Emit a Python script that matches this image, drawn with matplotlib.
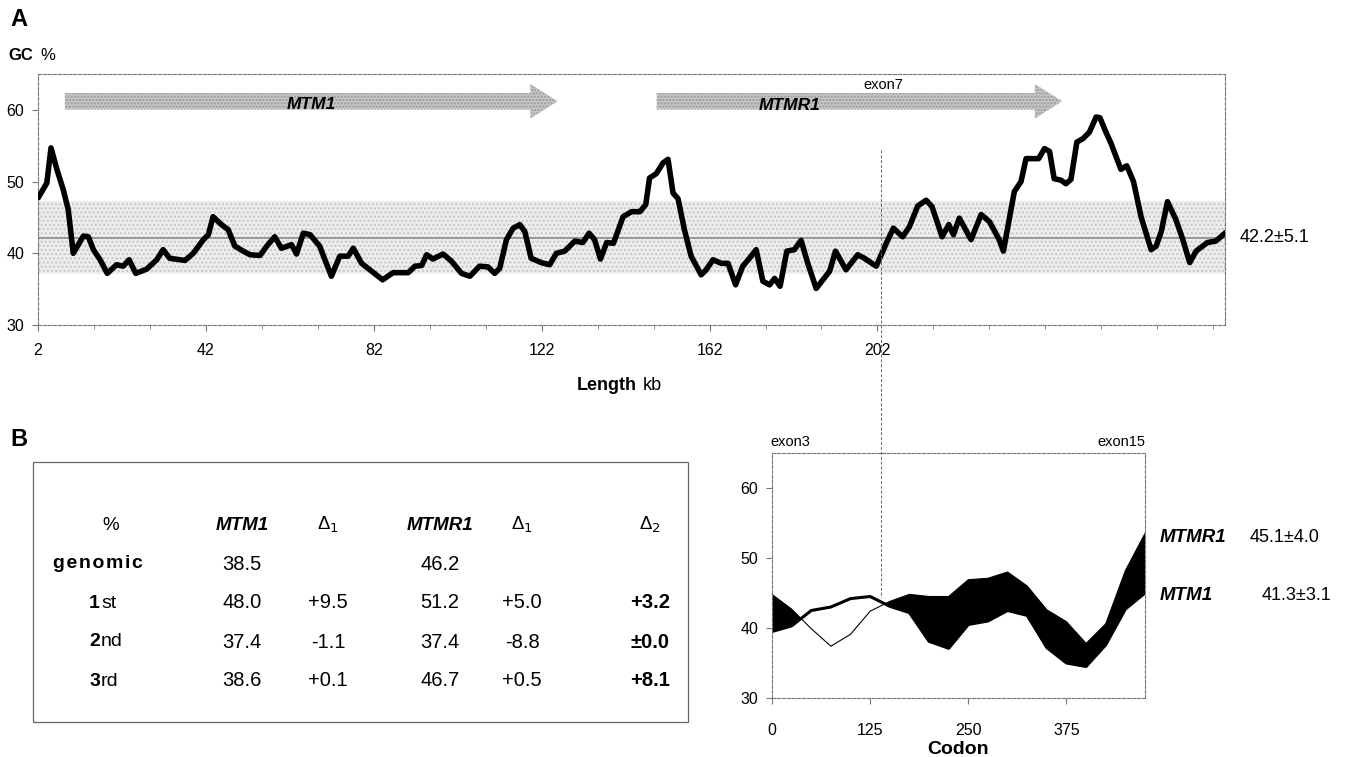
import numpy as np
import matplotlib.pyplot as plt
from matplotlib.patches import FancyArrow, Rectangle
from matplotlib.lines import Line2D

W, H = 1347, 757

plt.rcParams['font.family'] = ['Liberation Sans', 'DejaVu Sans']
NARROW = ['Liberation Sans Narrow', 'Liberation Sans', 'DejaVu Sans']

### Panel A data: GC % along the genomic region (kb)
kb = [2.2, 4.1, 5.1, 6.5, 8.0, 9.2, 10.4, 12.8, 14.0, 15.2, 16.8, 18.5, 20.7, 22.3,
      23.7, 25.3, 27.9, 30.3, 31.8, 33.4, 37.0, 39.0, 41.4, 42.6, 43.7, 45.7, 47.3,
      48.9, 50.9, 52.5, 54.9, 56.5, 58.4, 60.0, 62.4, 63.6, 65.2, 66.8, 69.1, 71.9,
      73.9, 75.9, 77.1, 79.1, 81.5, 84.1, 86.6, 90.2, 91.8, 93.4, 94.6, 96.1, 98.5,
      100.5, 102.9, 104.9, 107.2, 109.2, 110.8, 112.0, 113.6, 115.2, 116.8, 118.0,
      119.5, 121.9, 123.9, 125.5, 127.5, 129.9, 131.8, 133.3, 134.6, 136.0, 137.5,
      139.1, 141.4, 143.4, 145.4, 146.8, 147.7, 149.3, 150.9, 152.1, 153.3, 154.5,
      156.0, 157.6, 160.0, 161.2, 162.8, 164.8, 166.4, 168.2, 169.9, 171.5, 173.1,
      174.7, 176.3, 177.5, 178.8, 180.4, 182.2, 183.8, 185.4, 187.4, 190.6, 192.0,
      194.5, 197.3, 198.9, 201.7, 204.1, 205.8, 208.0, 209.6, 211.6, 213.6, 215.0,
      217.4, 219.0, 220.1, 221.5, 224.3, 226.7, 228.7, 231.0, 232.0, 234.6, 236.2,
      237.4, 240.4, 241.8, 243.0, 244.1, 245.7, 246.9, 248.1, 249.5, 251.0, 252.5,
      254.1, 255.0, 256.5, 257.6, 260.0, 261.4, 263.0, 264.8, 267.2, 268.4, 269.6,
      271.1, 273.1, 274.7, 276.4, 277.9, 280.6, 282.6, 284.6]
gc = [47.9, 49.8, 54.7, 51.7, 48.9, 46.1, 40.0, 42.4, 42.3, 40.5, 39.1, 37.2, 38.4, 38.2,
      39.1, 37.2, 37.8, 39.1, 40.5, 39.3, 39.0, 40.0, 41.9, 42.6, 45.1, 44.0, 43.3,
      41.0, 40.3, 39.8, 39.7, 41.0, 42.3, 40.7, 41.2, 39.9, 42.8, 42.6, 41.0, 36.8,
      39.6, 39.6, 40.7, 38.6, 37.5, 36.3, 37.3, 37.3, 38.2, 38.3, 39.8, 39.2, 39.9,
      38.9, 37.2, 36.8, 38.2, 38.1, 37.2, 37.9, 41.9, 43.5, 44.0, 43.0,
      39.3, 38.7, 38.4, 40.0, 40.3, 41.7, 41.5, 42.8, 41.9, 39.2, 41.5,
      41.4, 45.1, 45.8, 45.8, 46.8, 50.5, 51.1, 52.6, 53.1, 48.4, 47.6,
      43.3, 39.6, 37.0, 37.7, 39.1, 38.6, 38.6, 35.6, 38.2, 39.3, 40.5,
      36.1, 35.6, 36.5, 35.4, 40.3, 40.5, 41.8, 38.6, 35.1, 37.5, 40.3,
      37.7, 39.8, 39.3, 38.2, 41.4, 43.5, 42.3, 43.7, 46.6, 47.4, 46.5,
      42.3, 44.0, 42.6, 44.9, 41.9, 45.4, 44.4, 41.9, 40.3, 48.6, 50.0,
      53.2, 53.2, 54.6, 54.2, 50.4, 50.2, 49.7, 50.3, 55.5, 56.0, 56.9,
      59.0, 58.9, 56.8, 55.4, 51.7, 52.2, 50.0, 45.1, 40.5, 41.0, 43.0,
      47.2, 44.7, 42.0, 38.7, 40.3, 41.5, 41.7, 42.7]
gc_mean, gc_sd = 42.2, 5.1
kb_labels = [2, 42, 82, 122, 162, 202]

# genes drawn as arrows: start, end (kb)
genes = ['MTM1', 'MTMR1']
gene_start = [8.4, 149.4]
gene_end = [125.8, 246.0]

### Panel B data: GC % along the coding sequence
codon = np.arange(0, 476, 25)
mtm1_cds = np.array([39.5, 40.3, 42.5, 43.0, 44.2, 44.5, 43.1, 42.2, 38.1, 37.1, 40.5,
                     41.0, 42.5, 41.8, 37.2, 35.0, 34.5, 37.6, 42.7, 45.0])
mtmr1_cds = np.array([44.8, 42.7, 39.9, 37.4, 39.1, 42.4, 43.8, 44.8, 44.5, 44.5, 46.9,
                      47.1, 48.0, 46.0, 42.6, 40.9, 37.8, 40.6, 48.2, 53.5])
cds_stats = {'MTMR1': '45.1±4.0', 'MTM1': '41.3±3.1'}

# table
tab_cols = ['%', 'MTM1', 'Δ$_1$', 'MTMR1', 'Δ$_1$', 'Δ$_2$']
tab_rows = [('genomic', ''), ('1', 'st'), ('2', 'nd'), ('3', 'rd')]
tab_vals = [['38.5', '', '46.2', '', ''],
            ['48.0', '+9.5', '51.2', '+5.0', '+3.2'],
            ['37.4', '-1.1', '37.4', '-8.8', '±0.0'],
            ['38.6', '+0.1', '46.7', '+0.5', '+8.1']]


def fx(x):
    return x / W


def fy(y):
    return 1 - y / H


def style_frame(ax):
    for s in ax.spines.values():
        s.set_linestyle((0, (3, 1.5)))
        s.set_color('#777777')
        s.set_linewidth(0.8)
    ax.tick_params(direction='out', length=4, width=0.8, color='#777777',
                   labelsize=11.5, pad=6)


fig = plt.figure(figsize=(W / 100, H / 100), dpi=100)

### ---- panel A ----
ax = fig.add_axes([fx(38), fy(325), (1225 - 38) / W, (325 - 74) / H])
ax.set_xlim(2, 284.8)
ax.set_ylim(30, 65)
ax.axhspan(gc_mean - gc_sd, gc_mean + gc_sd, facecolor='#ededed', edgecolor='#c6c6c6',
           hatch='....', lw=0, zorder=0)
ax.axhline(gc_mean, color='#8c8c8c', lw=1.2, zorder=1)
ax.plot(kb, gc, color='black', lw=4.0, solid_joinstyle='round', zorder=3)

for name, s, e in zip(genes, gene_start, gene_end):
    arr = FancyArrow(s, 61.2, e - s, 0, width=2.3, head_width=4.8, head_length=6.5,
                     length_includes_head=True, facecolor='#c4c4c4', edgecolor='#9a9a9a',
                     hatch='.....', lw=0, zorder=2)
    ax.add_patch(arr)
ax.text(67, 60.7, 'MTM1', fontsize=12.5, fontweight='bold', style='italic',
        ha='center', va='center', zorder=4)
ax.text(181, 60.6, 'MTMR1', fontsize=12.5, fontweight='bold', style='italic',
        ha='center', va='center', zorder=4)
ax.text(203.5, 63.5, 'exon7', fontsize=10.5, ha='center', va='center')

ax.set_yticks([30, 40, 50, 60])
ax.set_xticks(kb_labels)
ax.set_xticks(2 + 40 / 3 * np.arange(22), minor=True)
ax.tick_params(axis='x', which='minor', direction='out', length=3, color='#777777')
style_frame(ax)
ax.tick_params(axis='x', pad=9)

fig.text(fx(8), fy(55), 'GC', fontsize=12, fontweight='bold', va='center')
fig.text(fx(40), fy(55), '%', fontsize=12, va='center')
fig.text(fx(10), fy(20), 'A', fontsize=17, fontweight='bold', va='center')
fig.text(fx(1240), fy(238), f'{gc_mean}±{gc_sd}', fontsize=13, va='center')
fig.text(fx(637), fy(385), 'Length', fontsize=13, fontweight='bold', ha='right', va='center')
fig.text(fx(643), fy(385), 'kb', fontsize=13, ha='left', va='center')

### ---- panel B, table ----
fig.text(fx(10), fy(440), 'B', fontsize=17, fontweight='bold', va='center')
fig.patches.append(Rectangle((fx(33), fy(722)), (688 - 33) / W, (722 - 462) / H,
                             transform=fig.transFigure, fill=False,
                             edgecolor='#666666', lw=0.9))
col_x = [111, 242, 328, 440, 522, 650]
row_y = [525, 564, 603, 642, 681]
for i, c in enumerate(tab_cols):
    bold_it = c in ('MTM1', 'MTMR1')
    fig.text(fx(col_x[i]), fy(row_y[0]), c, fontsize=13.5, ha='center', va='center',
             family=NARROW if not bold_it else None,
             fontweight='bold' if bold_it else 'normal',
             style='italic' if bold_it else 'normal')
for r, (lab, suf) in enumerate(tab_rows):
    y = fy(row_y[r + 1])
    if suf:
        fig.text(fx(100), y, lab, fontsize=14, fontweight='bold', ha='right', va='center')
        fig.text(fx(101), y, suf, fontsize=14, ha='left', va='center')
    else:
        fig.text(fx(98), y, 'g e n o m i c'.replace(' ', '\u200a'), fontsize=14,
                 fontweight='bold', ha='center', va='center')
    for j, v in enumerate(tab_vals[r]):
        fig.text(fx(col_x[j + 1]), y, v, fontsize=14.5, family=NARROW, ha='center',
                 va='center', fontweight='bold' if j == 4 else 'normal')

### ---- panel B, coding sequence plot ----
bx = fig.add_axes([fx(772), fy(698), (1145 - 772) / W, (698 - 453) / H])
bx.set_xlim(0, 475)
bx.set_ylim(30, 65)
bx.fill_between(codon, mtm1_cds, mtmr1_cds, where=mtmr1_cds >= mtm1_cds,
                interpolate=True, color='black', lw=0)
bx.plot(codon, mtmr1_cds, color='black', lw=0.8)
bx.plot(codon, mtm1_cds, color='black', lw=2.2)
bx.set_xticks([0, 125, 250, 375])
bx.set_yticks([30, 40, 50, 60])
style_frame(bx)
bx.tick_params(axis='x', pad=14)
bx.set_xlabel('Codon', fontsize=14, fontweight='bold', labelpad=2)

fig.text(fx(770), fy(442), 'exon3', fontsize=10.5, va='center')
fig.text(fx(1145), fy(442), 'exon15', fontsize=10.5, ha='right', va='center')
fig.text(fx(1160), fy(537), 'MTMR1', fontsize=13.5, fontweight='bold', style='italic',
         va='center')
fig.text(fx(1250), fy(537), cds_stats['MTMR1'], fontsize=13, va='center')
fig.text(fx(1160), fy(596), 'MTM1', fontsize=13.5, fontweight='bold', style='italic',
         va='center')
fig.text(fx(1262), fy(596), cds_stats['MTM1'], fontsize=13, va='center')

# exon 7 marker running from panel A down to panel B
fig.lines.append(Line2D([fx(881), fx(881)], [fy(150), fy(598)], transform=fig.transFigure,
                        color='#666666', lw=0.7, ls=(0, (3, 2))))

fig.savefig('out.png', dpi=100)
